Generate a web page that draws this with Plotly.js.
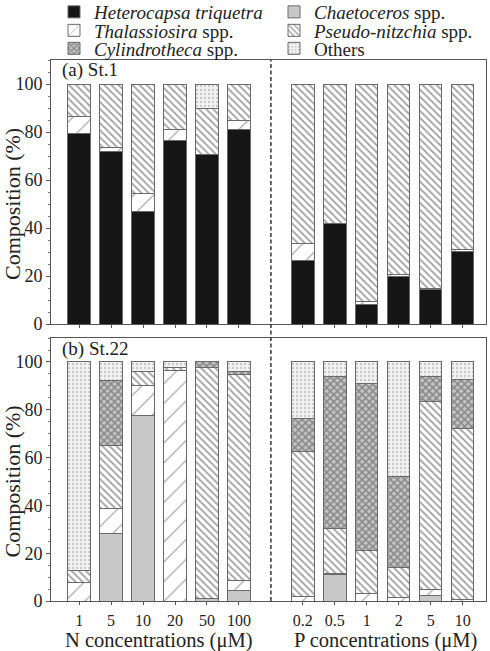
<!DOCTYPE html>
<html><head><meta charset="utf-8">
<script src="https://cdn.plot.ly/plotly-3.0.1.min.js"></script>
<style>html,body{margin:0;padding:0;background:#fff}#chart{width:490px;height:651px}</style>
</head><body><div id="chart"></div>
<script>
// Bar positions (N concentrations, gap, P concentrations)
const positions = [0,1,2,3,4,5,7,8,9,10,11,12];
const tickLabels = ["1","5","10","20","50","100","0.2","0.5","1","2","5","10"];
const speciesNames = ["<i>Heterocapsa triquetra</i>","<i>Chaetoceros</i> spp.","<i>Thalassiosira</i> spp.","<i>Pseudo-nitzchia</i> spp.","<i>Cylindrotheca</i> spp.","Others"];

// (a) St.1 composition (%)
const a_hetero = [79.5,72,47,76.5,70.5,81,26.5,42,8.2,19.8,14.2,30.3];
const a_chaet  = [0,0,0,0,0,0,0,0,0,0,0,0];
const a_thal   = [7,1.5,7.5,4.5,0,4,7,0,1,1,0.8,0.8];
const a_pseudo = [13.5,26.5,45.5,19,19.5,15,66.5,58,90.8,79.2,85,68.9];
const a_cyl    = [0,0,0,0,0,0,0,0,0,0,0,0];
const a_others = [0,0,0,0,10,0,0,0,0,0,0,0];

// (b) St.22 composition (%)
const b_hetero = [0,0,0,0,0,0,0,0,0,0,0,0];
const b_chaet  = [0,28.2,77.7,0,1,4.5,0,10.9,0,0,2.5,0];
const b_thal   = [7.7,10.4,12.3,96.5,0,4.2,1.7,0.7,3.1,1.4,2.4,0.5];
const b_pseudo = [4.9,26.3,6.2,1.1,96.6,86.1,60.8,18.8,18.2,12.6,78.4,71.8];
const b_cyl    = [0,27.4,0,0,2.4,1.2,13.9,63.7,69.6,38,10.8,20.5];
const b_others = [87.4,7.7,3.8,2.4,0,4,23.6,5.9,9.1,48,5.9,7.2];

const styles = [
  {color:'#151515'},
  {color:'#c8c8c8'},
  {color:'#ffffff', pattern:{shape:'/', size:14, solidity:0.08, fgcolor:'#333', bgcolor:'#ffffff', fillmode:'overlay'}},
  {color:'#ffffff', pattern:{shape:'\\', size:5, solidity:0.35, fgcolor:'#444', bgcolor:'#ffffff', fillmode:'overlay'}},
  {color:'#ffffff', pattern:{shape:'x', size:5, solidity:0.5, fgcolor:'#4a4a4a', bgcolor:'#c4c4c4', fillmode:'overlay'}},
  {color:'#ffffff', pattern:{shape:'.', size:4, solidity:0.25, fgcolor:'#999', bgcolor:'#f2f2f2', fillmode:'overlay'}}
];
const legendIds = ['legend','legend2','legend3','legend4','legend5','legend6'];

const aSets = [a_hetero,a_chaet,a_thal,a_pseudo,a_cyl,a_others];
const bSets = [b_hetero,b_chaet,b_thal,b_pseudo,b_cyl,b_others];
const nz = arr => arr.map(v => v > 0 ? v : null);

const traces = [];
aSets.forEach((vals,i) => {
  traces.push({type:'bar', x:positions, y:nz(vals), xaxis:'x2', yaxis:'y2', name:speciesNames[i],
    legendgroup:'g'+i, showlegend:true, legend:legendIds[i], width:0.7,
    marker:Object.assign({line:{color:'#6a6a6a', width:1}}, styles[i]), hoverinfo:'y'});
});
bSets.forEach((vals,i) => {
  traces.push({type:'bar', x:positions, y:nz(vals), xaxis:'x', yaxis:'y', name:speciesNames[i],
    legendgroup:'g'+i, showlegend:false, width:0.7,
    marker:Object.assign({line:{color:'#6a6a6a', width:1}}, styles[i]), hoverinfo:'y'});
});

const font = {family:'"Liberation Serif", "DejaVu Serif", serif', color:'#222'};
const f = s => Object.assign({size:s}, font);
const yCommon = {range:[0,110], tickvals:[0,20,40,60,80,100], ticks:'outside', ticklen:4, tickwidth:1, tickcolor:'#555',
  minor:{dtick:5, ticks:'outside', ticklen:2, tickcolor:'#777'},
  showline:true, mirror:true, linecolor:'#555', linewidth:1, showgrid:false, zeroline:false,
  tickfont:f(18)};
const xCommon = {range:[-0.88,12.73], tickvals:positions, ticktext:tickLabels, ticks:'outside', ticklen:3, tickcolor:'#555',
  showline:true, mirror:true, linecolor:'#555', linewidth:1, showgrid:false, zeroline:false,
  tickfont:f(16), ticklabelstandoff:2};

const pyRow = px => (601 - px) / 541;
const pxCol = px => (px - 51) / 435;
const legendBase = {orientation:'v', xanchor:'left', yanchor:'middle', font:f(19), tracegroupgap:0, bgcolor:'rgba(0,0,0,0)', borderwidth:0};
const legendPos = [[54,12],[274,12],[54,30.5],[274,30.5],[54,48.5],[274,48.5]];

const layout = {
  width:490, height:651, barmode:'stack', bargap:0.3,
  margin:{l:51, r:4, t:60, b:50, autoexpand:false},
  paper_bgcolor:'#fff', plot_bgcolor:'#fff', font:font,
  xaxis:Object.assign({}, xCommon, {anchor:'y', domain:[0,1]}),
  xaxis2:Object.assign({}, xCommon, {anchor:'y2', domain:[0,1], showticklabels:false, matches:'x'}),
  yaxis:Object.assign({}, yCommon, {domain:[0,0.486], anchor:'x'}),
  yaxis2:Object.assign({}, yCommon, {domain:[0.512,1], anchor:'x2'}),
  shapes:[{type:'line', xref:'x', x0:6, x1:6, yref:'paper', y0:0, y1:1, line:{color:'#333', width:1.5, dash:'4px,2.5px'}}],
  annotations:[
    {text:'(a) St.1', xref:'paper', yref:'paper', x:0.02, y:0.982, xanchor:'left', yanchor:'middle', showarrow:false, font:f(19)},
    {text:'(b) St.22', xref:'paper', yref:'paper', x:0.02, y:0.466, xanchor:'left', yanchor:'middle', showarrow:false, font:f(19)},
    {text:'Composition (%)', xref:'paper', yref:'y2', x:(12-51)/435, y:50, xanchor:'center', yanchor:'middle', textangle:-90, showarrow:false, font:f(22)},
    {text:'Composition (%)', xref:'paper', yref:'y', x:(12-51)/435, y:50, xanchor:'center', yanchor:'middle', textangle:-90, showarrow:false, font:f(22)},
    {text:'N concentrations (μM)', xref:'paper', yref:'paper', x:(158-51)/435, y:-(640-601)/541, xanchor:'center', yanchor:'middle', showarrow:false, font:f(20.5)},
    {text:'P concentrations (μM)', xref:'paper', yref:'paper', x:(385-51)/435, y:-(640-601)/541, xanchor:'center', yanchor:'middle', showarrow:false, font:f(20.5)}
  ]
};
legendIds.forEach((id,i) => {
  layout[id] = Object.assign({}, legendBase, {x:pxCol(legendPos[i][0]), y:pyRow(legendPos[i][1])});
});

Plotly.newPlot('chart', traces, layout, {displayModeBar:false, staticPlot:true});
</script>
</body></html>
